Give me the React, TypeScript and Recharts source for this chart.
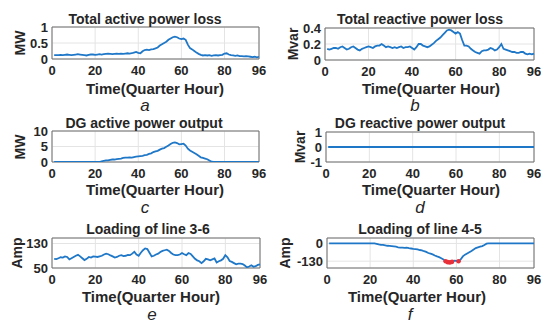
import React from 'react';
import {LineChart, Line, XAxis, YAxis, CartesianGrid, ReferenceArea} from 'recharts';

// time axis: quarter hours 1..96
const hours = Array.from({length: 96}, (_, i) => i + 1);
const timeTicks = [0, 20, 40, 60, 80, 96];

// a - total active power loss (MW)
const activeLoss = [
  0.12, 0.12, 0.12, 0.13, 0.12, 0.13, 0.14, 0.13, 0.12, 0.13, 0.14, 0.15, 0.14, 0.13, 0.12, 0.11,
  0.13, 0.14, 0.14, 0.13, 0.14, 0.15, 0.14, 0.15, 0.16, 0.17, 0.16, 0.15, 0.16, 0.17, 0.16, 0.17,
  0.16, 0.17, 0.18, 0.17, 0.18, 0.2, 0.22, 0.19, 0.18, 0.24, 0.28, 0.29, 0.28, 0.3, 0.31, 0.33,
  0.36, 0.42, 0.46, 0.5, 0.54, 0.6, 0.64, 0.68, 0.7, 0.68, 0.64, 0.62, 0.64, 0.6, 0.45, 0.34,
  0.3, 0.25, 0.2, 0.16, 0.13, 0.11, 0.12, 0.11, 0.12, 0.1, 0.11, 0.12, 0.11, 0.12, 0.13, 0.17,
  0.18, 0.14, 0.12, 0.11, 0.1, 0.11, 0.09, 0.09, 0.08, 0.09, 0.08, 0.07, 0.06, 0.07, 0.05, 0.07,
];

// b - total reactive power loss (Mvar)
const reactiveLoss = [
  0.14, 0.13, 0.14, 0.15, 0.15, 0.14, 0.16, 0.17, 0.15, 0.13, 0.14, 0.16, 0.17, 0.15, 0.13, 0.12,
  0.14, 0.15, 0.16, 0.17, 0.16, 0.15, 0.17, 0.18, 0.18, 0.2, 0.18, 0.16, 0.17, 0.16, 0.15, 0.16,
  0.15, 0.16, 0.17, 0.15, 0.16, 0.16, 0.17, 0.15, 0.13, 0.16, 0.2, 0.2, 0.18, 0.17, 0.16, 0.17,
  0.19, 0.21, 0.24, 0.26, 0.28, 0.31, 0.34, 0.37, 0.38, 0.37, 0.35, 0.33, 0.35, 0.33, 0.25, 0.18,
  0.18, 0.17, 0.14, 0.12, 0.1, 0.09, 0.08, 0.11, 0.12, 0.12, 0.13, 0.15, 0.14, 0.12, 0.13, 0.16,
  0.2, 0.14, 0.13, 0.12, 0.11, 0.1, 0.1, 0.09, 0.09, 0.1, 0.1, 0.08, 0.07, 0.08, 0.07, 0.08,
];

// c - DG active power output (MW)
const dgActive = [
  0, 0, 0, 0, 0, 0, 0, 0, 0, 0, 0, 0, 0, 0, 0, 0,
  0, 0, 0, 0, 0, 0, 0.2, 0.4, 0.5, 0.5, 0.7, 0.8, 0.8, 0.9, 1.0, 1.1,
  1.3, 1.4, 1.4, 1.5, 1.4, 1.6, 1.7, 1.8, 1.9, 2.0, 2.2, 2.3, 2.6, 2.8, 3.2, 3.4,
  3.6, 4.0, 4.3, 4.5, 4.9, 5.3, 5.8, 6.2, 6.3, 6.1, 5.7, 5.8, 5.9, 5.3, 4.3, 3.7,
  3.3, 2.9, 2.5, 2.0, 1.5, 1.3, 1.1, 0.9, 0.5, 0.1, 0, 0, 0, 0, 0, 0,
  0, 0, 0, 0, 0, 0, 0, 0, 0, 0, 0, 0, 0, 0, 0, 0,
];

// d - DG reactive power output (Mvar)
const dgReactive = [
  0, 0, 0, 0, 0, 0, 0, 0, 0, 0, 0, 0, 0, 0, 0, 0,
  0, 0, 0, 0, 0, 0, 0, 0, 0, 0, 0, 0, 0, 0, 0, 0,
  0, 0, 0, 0, 0, 0, 0, 0, 0, 0, 0, 0, 0, 0, 0, 0,
  0, 0, 0, 0, 0, 0, 0, 0, 0, 0, 0, 0, 0, 0, 0, 0,
  0, 0, 0, 0, 0, 0, 0, 0, 0, 0, 0, 0, 0, 0, 0, 0,
  0, 0, 0, 0, 0, 0, 0, 0, 0, 0, 0, 0, 0, 0, 0, 0,
];

// e - loading of line 3-6 (Amp)
const line36 = [
  80, 79, 82, 85, 84, 88, 86, 78, 82, 86, 90, 93, 88, 82, 76, 80,
  86, 84, 88, 87, 86, 88, 90, 94, 97, 95, 91, 88, 84, 86, 90, 92,
  89, 90, 93, 92, 97, 103, 94, 90, 100, 108, 114, 112, 100, 88, 90, 94,
  97, 102, 106, 108, 110, 106, 99, 94, 92, 92, 94, 99, 95, 92, 99, 96,
  88, 80, 75, 72, 66, 72, 80, 78, 75, 78, 81, 68, 72, 75, 80, 92,
  85, 73, 70, 66, 62, 64, 64, 63, 58, 52, 55, 59, 54, 56, 60, 62,
];

// f - loading of line 4-5 (Amp)
const line45 = [
  0, 0, 0, 0, 0, 0, 0, 0, 0, 0, 0, 0, 0, 0, 0, 0,
  0, 0, 0, 0, 0, 0, -3, -7, -10, -11, -14, -17, -18, -20, -22, -24,
  -28, -30, -31, -33, -31, -35, -37, -40, -42, -44, -48, -51, -57, -62, -70, -75,
  -80, -88, -95, -100, -108, -117, -131, -137, -139, -135, -126, -128, -131, -117, -95, -82,
  -73, -64, -55, -45, -34, -29, -24, -19, -11, -2, 0, 0, 0, 0, 0, 0,
  0, 0, 0, 0, 0, 0, 0, 0, 0, 0, 0, 0, 0, 0, 0, 0,
];
const line45Limit = -130;

const BLUE = '#1f77c8';
const RED = '#e8303a';
const INK = '#262626';
const FONT = '"Liberation Sans", Arial, sans-serif';

interface PanelProps {
  x0: number; x1: number; y0: number; y1: number;
  values: number[];
  domain: [number, number];
  yTicks: number[];
  title: string; titleX: number; titleY: number;
  ylabel: string; ylabelX: number;
  xlabelX: number; xlabelY: number;
  letter: string; letterX: number; letterY: number;
  limit?: number;
}

const ML = 45, MT = 6, MR = 10, MB = 24;

const Txt = ({x, y, children, style}: any) => (
  <div style={{position: 'absolute', left: x, top: y, transform: 'translate(-50%,-50%)', whiteSpace: 'nowrap',
    fontFamily: FONT, color: INK, lineHeight: 1, ...style}}>{children}</div>
);

const Panel = (p: PanelProps) => {
  const W = p.x1 - p.x0, H = p.y1 - p.y0;
  const rows = hours.map((t, i) => ({
    t,
    v: p.values[i],
    over: p.limit !== undefined && p.values[i] <= p.limit ? p.values[i] : null,
  }));
  const tickStyle = {fontFamily: FONT, fontSize: 13, fontWeight: 700, fill: INK};
  return (
    <>
      <div style={{position: 'absolute', left: p.x0 - ML, top: p.y0 - MT}}>
        <LineChart width={W + ML + MR} height={H + MT + MB} data={rows} margin={{top: MT, right: MR, left: 0, bottom: 0}}>
          <CartesianGrid stroke="#e4e4e4" strokeWidth={1} />
          <XAxis dataKey="t" type="number" domain={[0, 96]} ticks={timeTicks} interval={0}
            tickLine={false} axisLine={false} tickSize={4} tickMargin={3} height={MB} tick={tickStyle} />
          <YAxis type="number" domain={p.domain} ticks={p.yTicks} interval={0} allowDataOverflow
            tickLine={false} axisLine={false} tickSize={2} tickMargin={2} width={ML} tick={tickStyle} />
          <ReferenceArea x1={0} x2={96} y1={p.domain[0]} y2={p.domain[1]} fill="none" fillOpacity={0}
            stroke="#6e6e6e" strokeWidth={1} />
          <Line dataKey="v" stroke={BLUE} strokeWidth={1.8} dot={false} isAnimationActive={false} />
          {p.limit !== undefined && (
            <Line dataKey="over" stroke="none" connectNulls={false}
              dot={{r: 2.3, fill: RED, stroke: RED, strokeWidth: 0}} isAnimationActive={false} />
          )}
        </LineChart>
      </div>
      <Txt x={p.titleX} y={p.titleY} style={{fontSize: 14, fontWeight: 700}}>{p.title}</Txt>
      <Txt x={p.ylabelX} y={(p.y0 + p.y1) / 2} style={{fontSize: 14, fontWeight: 700, transform: 'translate(-50%,-50%) rotate(-90deg)'}}>{p.ylabel}</Txt>
      <Txt x={p.xlabelX} y={p.xlabelY} style={{fontSize: 15, fontWeight: 700}}>Time(Quarter Hour)</Txt>
      <Txt x={p.letterX} y={p.letterY} style={{fontSize: 17, fontStyle: 'italic'}}>{p.letter}</Txt>
    </>
  );
};

export default function App() {
  return (
    <div style={{position: 'absolute', left: 0, top: 0, width: 541, height: 323, background: '#fff', overflow: 'hidden'}}>
      <Panel x0={52} x1={259} y0={27} y1={59} values={activeLoss} domain={[0, 1]} yTicks={[0, 0.5, 1]}
        title="Total active power loss" titleX={145} titleY={19} ylabel="MW" ylabelX={20}
        xlabelX={155} xlabelY={88} letter="a" letterX={145} letterY={105} />
      <Panel x0={325} x1={534} y0={28} y1={60} values={reactiveLoss} domain={[0, 0.4]} yTicks={[0, 0.2, 0.4]}
        title="Total reactive power loss" titleX={420} titleY={19} ylabel="Mvar" ylabelX={293}
        xlabelX={431} xlabelY={88} letter="b" letterX={415} letterY={105} />
      <Panel x0={52} x1={259} y0={131} y1={162} values={dgActive} domain={[0, 10]} yTicks={[0, 5, 10]}
        title="DG active power output" titleX={144} titleY={123} ylabel="MW" ylabelX={20}
        xlabelX={155} xlabelY={189} letter="c" letterX={145} letterY={207} />
      <Panel x0={326} x1={534} y0={132} y1={162} values={dgReactive} domain={[-1, 1]} yTicks={[-1, 0, 1]}
        title="DG reactive power output" titleX={420} titleY={123} ylabel="Mvar" ylabelX={300}
        xlabelX={431} xlabelY={189} letter="d" letterX={420} letterY={207} />
      <Panel x0={52} x1={260} y0={238} y1={268} values={line36} domain={[50, 148]} yTicks={[50, 130]}
        title="Loading of line 3-6" titleX={148} titleY={229} ylabel="Amp" ylabelX={17}
        xlabelX={151} xlabelY={296} letter="e" letterX={152} letterY={314} />
      <Panel x0={327} x1={534} y0={238} y1={268} values={line45} domain={[-180, 40]} yTicks={[-130, 0]}
        title="Loading of line 4-5" titleX={420} titleY={229} ylabel="Amp" ylabelX={285}
        xlabelX={417} xlabelY={296} letter="f" letterX={410} letterY={314} limit={line45Limit} />
    </div>
  );
}
